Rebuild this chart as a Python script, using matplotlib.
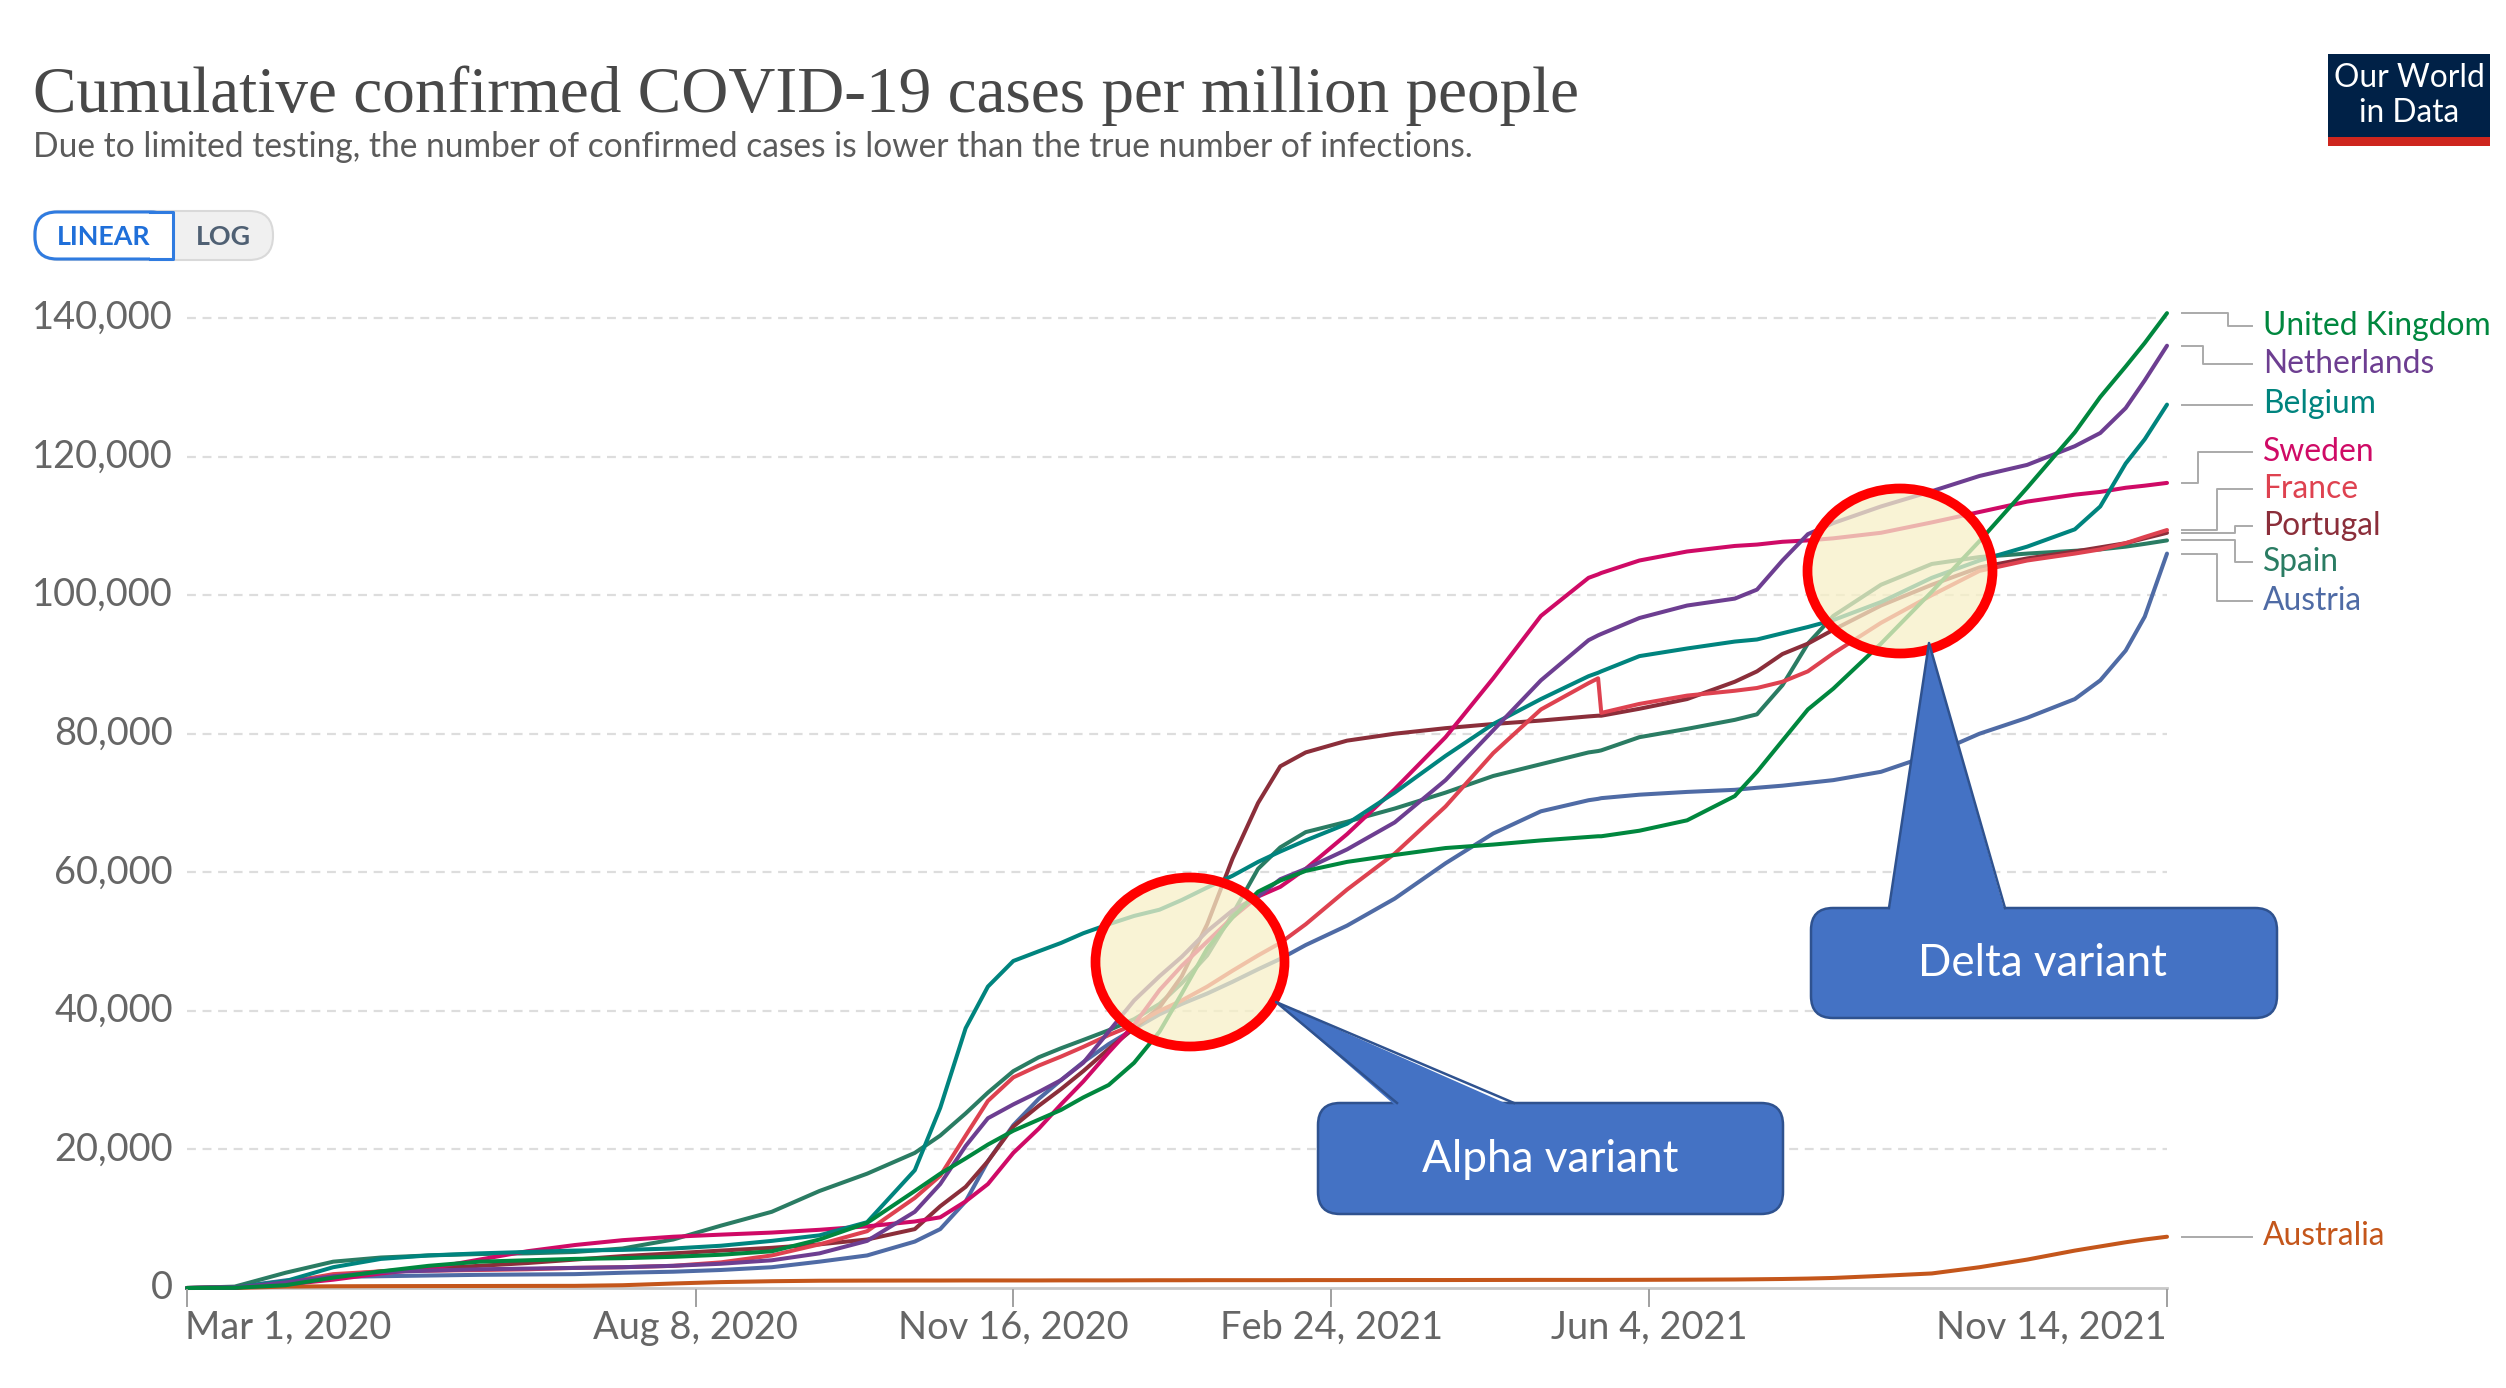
import numpy as np
import matplotlib
matplotlib.use("Agg")
import matplotlib.pyplot as plt
import matplotlib.dates as mdates
import matplotlib.transforms as mtransforms
from matplotlib.patches import Ellipse, FancyBboxPatch, Polygon, Rectangle
from matplotlib.lines import Line2D
import datetime as dt

# ---------------- data (cases per million, thousands) ----------------
DATES = ["2020-03-01", "2020-03-16", "2020-04-01", "2020-04-16", "2020-05-01", "2020-05-16",
         "2020-06-01", "2020-06-16", "2020-07-01", "2020-07-16", "2020-08-01", "2020-08-16",
         "2020-09-01", "2020-09-16", "2020-10-01", "2020-10-16",
         "2020-10-24", "2020-11-01", "2020-11-08", "2020-11-16", "2020-11-24", "2020-12-01",
         "2020-12-08", "2020-12-16", "2020-12-24", "2021-01-01", "2021-01-08", "2021-01-16",
         "2021-01-24", "2021-02-01", "2021-02-08", "2021-02-16",
         "2021-03-01", "2021-03-16", "2021-04-01", "2021-04-16", "2021-05-01", "2021-05-16",
         "2021-05-19", "2021-05-20", "2021-06-01", "2021-06-16", "2021-07-01", "2021-07-08",
         "2021-07-16", "2021-07-24", "2021-08-01", "2021-08-16", "2021-09-01", "2021-09-16",
         "2021-10-01", "2021-10-16", "2021-10-24", "2021-11-01", "2021-11-07", "2021-11-14"]

UNITED_KINGDOM = [0.0, 0.03, 0.4, 1.5, 2.4, 3.2, 3.8, 4.0, 4.2, 4.3, 4.5, 4.8, 5.3, 7.0, 9.4, 14.0,
                  16.5, 18.7, 20.7, 22.7, 24.3, 25.7, 27.5, 29.3, 32.5, 37.0, 42.5, 49.0, 53.5, 57.2, 58.8, 60.2,
                  61.5, 62.5, 63.5, 64.0, 64.6, 65.1, 65.2, 65.2, 66.0, 67.5, 71.0, 74.5, 79.0, 83.5,
                  86.5, 93.0, 100.5, 107.8, 115.5, 123.5, 128.6, 133.0, 136.4, 140.7]
NETHERLANDS = [0.0, 0.08, 0.8, 1.7, 2.3, 2.5, 2.7, 2.8, 2.9, 3.0, 3.2, 3.5, 4.0, 5.0, 6.8, 11.0,
               15.0, 20.5, 24.5, 26.5, 28.3, 30.0, 32.5, 37.0, 41.5, 45.0, 47.8, 51.5, 54.5, 56.5, 59.0, 60.5,
               63.3, 67.2, 73.3, 80.5, 87.7, 93.5, 94.2, 94.4, 96.7, 98.5, 99.5, 100.8, 105.0, 108.8,
               110.4, 112.8, 115.0, 117.2, 118.8, 121.5, 123.4, 127.0, 131.0, 136.0]
BELGIUM = [0.0, 0.1, 1.0, 3.0, 4.2, 4.7, 5.0, 5.2, 5.4, 5.5, 5.7, 6.1, 6.8, 7.6, 9.5, 17.0,
           26.0, 37.5, 43.5, 47.2, 48.6, 49.8, 51.2, 52.5, 53.7, 54.6, 56.0, 57.8, 59.5, 61.5, 63.0, 64.6,
           67.0, 71.5, 76.8, 81.4, 85.0, 88.3, 88.8, 89.0, 91.2, 92.3, 93.3, 93.6, 94.5, 95.4,
           96.4, 99.0, 102.5, 105.0, 107.0, 109.5, 112.8, 119.0, 122.5, 127.5]
SWEDEN = [0.0, 0.1, 0.5, 1.2, 2.1, 2.8, 4.1, 5.3, 6.2, 6.9, 7.4, 7.7, 8.0, 8.4, 8.9, 9.6,
          10.2, 12.5, 15.0, 19.5, 23.0, 26.5, 29.8, 34.0, 38.0, 43.0, 46.5, 50.0, 53.5, 56.5, 57.9, 60.5,
          65.5, 72.0, 79.5, 88.0, 97.0, 102.5, 103.0, 103.2, 105.0, 106.3, 107.1, 107.3, 107.7, 107.9,
          108.2, 109.0, 110.5, 112.0, 113.5, 114.5, 114.9, 115.5, 115.8, 116.2]
FRANCE = [0.0, 0.1, 0.8, 2.0, 2.4, 2.5, 2.6, 2.7, 2.9, 3.0, 3.2, 3.7, 4.7, 6.3, 8.2, 13.0,
          16.2, 22.0, 27.0, 30.4, 32.1, 33.4, 34.8, 36.5, 38.0, 40.0, 41.5, 43.5, 45.8, 48.0, 49.8, 52.5,
          57.5, 62.7, 69.5, 77.2, 83.5, 87.3, 88.0, 83.0, 84.3, 85.5, 86.2, 86.6, 87.5, 89.0,
          91.6, 96.0, 100.0, 103.5, 105.0, 106.0, 106.6, 107.5, 108.4, 109.4]
PORTUGAL = [0.0, 0.01, 0.8, 1.8, 2.4, 2.8, 3.2, 3.6, 4.1, 4.6, 5.0, 5.4, 5.8, 6.3, 7.0, 8.5,
            11.8, 14.6, 18.3, 23.3, 26.3, 28.7, 31.3, 34.5, 37.5, 40.5, 45.0, 52.5, 62.0, 70.0, 75.3, 77.3,
            79.0, 80.0, 80.8, 81.4, 81.9, 82.5, 82.6, 82.6, 83.6, 85.0, 87.5, 89.0, 91.5, 93.0,
            95.0, 98.5, 101.5, 104.0, 105.3, 106.3, 106.9, 107.5, 108.2, 109.0]
SPAIN = [0.0, 0.2, 2.2, 3.8, 4.4, 4.7, 4.9, 5.0, 5.2, 5.7, 7.0, 9.0, 11.0, 14.0, 16.5, 19.5,
         22.0, 25.2, 28.2, 31.3, 33.3, 34.6, 35.8, 37.2, 38.8, 41.0, 44.0, 48.0, 54.0, 60.5, 63.6, 65.8,
         67.3, 69.2, 71.5, 73.9, 75.6, 77.3, 77.5, 77.6, 79.5, 80.7, 82.0, 82.8, 87.0, 93.0,
         97.0, 101.5, 104.5, 105.5, 106.0, 106.4, 106.6, 107.0, 107.4, 107.9]
AUSTRIA = [0.0, 0.1, 1.1, 1.6, 1.7, 1.8, 1.9, 1.95, 2.0, 2.2, 2.35, 2.6, 3.0, 3.8, 4.7, 6.7,
           8.5, 12.5, 18.3, 23.5, 27.3, 30.0, 32.6, 35.2, 37.4, 39.5, 41.0, 42.5, 44.2, 46.0, 47.5, 49.5,
           52.3, 56.2, 61.3, 65.6, 68.8, 70.4, 70.6, 70.7, 71.2, 71.6, 71.9, 72.2, 72.5, 72.9,
           73.3, 74.5, 77.0, 80.0, 82.3, 85.0, 87.7, 92.0, 96.9, 106.0]
AUSTRALIA = [0.0, 0.01, 0.2, 0.25, 0.27, 0.28, 0.29, 0.3, 0.31, 0.4, 0.65, 0.85, 0.98, 1.05, 1.07, 1.08,
             1.08, 1.09, 1.09, 1.09, 1.09, 1.1, 1.1, 1.1, 1.11, 1.12, 1.12, 1.13, 1.13, 1.13, 1.13, 1.14,
             1.14, 1.15, 1.15, 1.16, 1.17, 1.17, 1.17, 1.17, 1.18, 1.2, 1.23, 1.26, 1.3, 1.36,
             1.45, 1.75, 2.1, 3.0, 4.1, 5.4, 6.0, 6.6, 7.0, 7.4]

COUNTRIES = ["Australia", "Austria", "Spain", "Portugal", "France", "Sweden",
             "Belgium", "Netherlands", "United Kingdom"]
SERIES = {"United Kingdom": UNITED_KINGDOM, "Netherlands": NETHERLANDS, "Belgium": BELGIUM,
          "Sweden": SWEDEN, "France": FRANCE, "Portugal": PORTUGAL, "Spain": SPAIN,
          "Austria": AUSTRIA, "Australia": AUSTRALIA}
COLORS = {"United Kingdom": "#00873E", "Netherlands": "#6D3E91", "Belgium": "#00847E",
          "Sweden": "#CF0A66", "France": "#DE4250", "Portugal": "#8B2E3A", "Spain": "#2A7C63",
          "Austria": "#4F6BA5", "Australia": "#C4561B"}

Y_TICKS = [0, 20000, 40000, 60000, 80000, 100000, 120000, 140000]
X_TICKS = ["2020-03-01", "2020-08-08", "2020-11-16", "2021-02-24", "2021-06-04", "2021-11-14"]
X_TICK_LABELS = ["Mar 1, 2020", "Aug 8, 2020", "Nov 16, 2020", "Feb 24, 2021", "Jun 4, 2021", "Nov 14, 2021"]

TITLE = "Cumulative confirmed COVID-19 cases per million people"
SUBTITLE = "Due to limited testing, the number of confirmed cases is lower than the true number of infections."

# ---------------- layout (pixels, top-left origin) ----------------
W, H = 2506, 1388
PLOT_L, PLOT_R, PLOT_B, PLOT_T140 = 187, 2167, 1288, 318
YMAX = 146000

fig = plt.figure(figsize=(W / 100, H / 100), dpi=100)
fig.patch.set_facecolor("white")
PX = mtransforms.Affine2D().scale(1, -1).translate(0, H)  # top-left pixel coords -> display
IDT = mtransforms.IdentityTransform()

plot_h = (PLOT_B - PLOT_T140) * YMAX / 140000
ax = fig.add_axes([PLOT_L / W, (H - PLOT_B) / H, (PLOT_R - PLOT_L) / W, plot_h / H])
ax.set_axis_off()
x = mdates.date2num([dt.date.fromisoformat(d) for d in DATES])
x0 = mdates.date2num(dt.date(2020, 3, 1))
x1 = mdates.date2num(dt.date(2021, 11, 14))
ax.set_xlim(x0, x1)
ax.set_ylim(0, YMAX)

FONT = ["Lato", "DejaVu Sans"]

# gridlines
for yv in Y_TICKS[1:]:
    ax.plot([x0, x1], [yv, yv], color="#DDDDDD", lw=1.6, ls=(0, (4, 3)), zorder=1)
ax.plot([x0, x1], [0, 0], color="#C8C8C8", lw=2.0, zorder=1, clip_on=False)

for c in COUNTRIES:
    ax.plot(x, np.array(SERIES[c]) * 1000, color=COLORS[c], lw=2.9, zorder=3,
            clip_on=False, solid_joinstyle="round", solid_capstyle="round")

fig.canvas.draw()
R = fig.canvas.get_renderer()


def fit(t, target_w):
    w = t.get_window_extent(R).width
    t.set_fontsize(t.get_fontsize() * target_w / w)


def to_px(xd, yd):
    dx, dy = ax.transData.transform((xd, yd))
    return dx, H - dy


# y tick labels
ytexts = []
for yv in Y_TICKS:
    _, yp = to_px(x0, yv)
    t = fig.text(173, yp, f"{yv:,}", transform=PX, ha="right", va="center",
                 family=FONT, fontsize=26, color="#666666")
    ytexts.append(t)
fit(ytexts[-1], 141)
ysize = ytexts[-1].get_fontsize()
for t in ytexts:
    t.set_fontsize(ysize)

# x ticks and labels
for i, (d, lab) in enumerate(zip(X_TICKS, X_TICK_LABELS)):
    xd = mdates.date2num(dt.date.fromisoformat(d))
    xp, _ = to_px(xd, 0)
    fig.add_artist(Line2D([xp, xp], [1290, 1306], transform=PX, color="#A0A0A0", lw=1.4))
    ha = "left" if i == 0 else ("right" if i == len(X_TICKS) - 1 else "center")
    if i == 0:
        xp -= 2
    fig.text(xp, 1328, lab, transform=PX, ha=ha, va="center", family=FONT,
             fontsize=ysize, color="#666666")

# connectors and labels
LABEL_Y = {"United Kingdom": 326, "Netherlands": 364, "Belgium": 403, "Sweden": 452,
           "France": 489, "Portugal": 526, "Spain": 562, "Austria": 601, "Australia": 1237}
ELBOW_X = {"United Kingdom": 2228, "Netherlands": 2203, "Belgium": None, "Sweden": 2198,
           "France": 2217, "Portugal": 2235, "Spain": 2235, "Austria": 2217, "Australia": None}
lab_size = None
for c in ["United Kingdom", "Netherlands", "Belgium", "Sweden", "France", "Portugal",
          "Spain", "Austria", "Australia"]:
    _, ys = to_px(x1, SERIES[c][-1] * 1000)
    yl = LABEL_Y[c]
    ex = ELBOW_X[c]
    if ex is None:
        xs_, ys_ = [2182, 2252], [ys, ys]
        yl = ys - 1
    else:
        xs_, ys_ = [2182, ex, ex, 2252], [ys, ys, yl, yl]
    fig.add_artist(Line2D(xs_, ys_, transform=PX, color="#AAAAAA", lw=1.4))
    t = fig.text(2263, yl, c, transform=PX, ha="left", va="center", family=FONT,
                 fontsize=22, color=COLORS[c])
    if c == "United Kingdom":
        fit(t, 227)
        lab_size = t.get_fontsize()
    else:
        t.set_fontsize(lab_size)

# title & subtitle
tt = fig.text(33, 112, TITLE, transform=PX, ha="left", va="baseline",
              family=["Liberation Serif", "DejaVu Serif"], fontsize=46, color="#484848")
fit(tt, 1547)
st = fig.text(33, 157, SUBTITLE, transform=PX, ha="left", va="baseline",
              family=FONT, fontsize=22, color="#5B5B5B")
fit(st, 1434)

# LINEAR / LOG toggle
fig.add_artist(FancyBboxPatch((34, H - 260), 239, 49, boxstyle="round,pad=0,rounding_size=24",
                              transform=IDT, fc="#F0F0F0", ec="#D9D9D9", lw=1.5))
fig.add_artist(FancyBboxPatch((35, H - 259), 138, 47, boxstyle="round,pad=0,rounding_size=22",
                              transform=IDT, fc="white", ec="#2F7BE0", lw=2.2))
fig.add_artist(Rectangle((150, H - 259), 23, 47, transform=IDT, fc="white", ec="none"))
fig.add_artist(Line2D([150, 173, 173, 150], [H - 259, H - 259, H - 212, H - 212],
                      transform=IDT, color="#2F7BE0", lw=2.2))
t1 = fig.text(104, 237, "LINEAR", transform=PX, ha="center", va="center", family=FONT,
              fontweight="bold", fontsize=18, color="#1F6FD9")
fit(t1, 94)
fig.text(223, 237, "LOG", transform=PX, ha="center", va="center", family=FONT,
         fontweight="bold", fontsize=t1.get_fontsize(), color="#4F6073")

# OWID logo
fig.add_artist(Rectangle((2328, H - 137), 162, 83, transform=IDT, fc="#002147", ec="none"))
fig.add_artist(Rectangle((2328, H - 146), 162, 9, transform=IDT, fc="#CE261E", ec="none"))
l1 = fig.text(2409, 78, "Our World", transform=PX, ha="center", va="center", family=FONT,
              fontsize=22, color="white")
fit(l1, 150)
fig.text(2409, 113, "in Data", transform=PX, ha="center", va="center", family=FONT,
         fontsize=l1.get_fontsize(), color="white")

# highlight ellipses
for (cx, cy, ew, eh) in [(1190, 962, 189, 169), (1900, 571, 185, 165)]:
    fig.add_artist(Ellipse((cx, H - cy), ew, eh, transform=IDT,
                           fc=(0.97, 0.94, 0.78, 0.74), ec="#FF0000", lw=7, zorder=5))


# callouts
def callout(box, tip, base, text, tcenter, tw):
    bx0, by0, bx1, by1 = box
    fig.add_artist(FancyBboxPatch((bx0, H - by1), bx1 - bx0, by1 - by0,
                                  boxstyle="round,pad=0,rounding_size=22", transform=IDT,
                                  fc="#4472C4", ec="#2F528F", lw=1.8, zorder=6))
    (ax0, ay), (ax1_, _) = base
    poly = [(ax0, H - ay - 4), (tip[0], H - tip[1]), (ax1_, H - ay - 4)]
    fig.add_artist(Polygon(poly, closed=True, transform=IDT, fc="#4472C4", ec="none", zorder=7))
    fig.add_artist(Line2D([ax0, tip[0], ax1_], [H - ay, H - tip[1], H - ay],
                          transform=IDT, color="#2F528F", lw=1.8, zorder=8))
    t = fig.text(tcenter[0], tcenter[1], text, transform=PX, ha="center", va="center",
                 family=FONT, fontsize=28, color="white", zorder=9)
    fit(t, tw)


callout((1318, 1103, 1783, 1214), (1276, 1002), [(1397, 1103), (1514, 1103)],
        "Alpha variant", (1550, 1160), 257)
callout((1811, 908, 2277, 1018), (1929, 643), [(1889, 908), (2005, 908)],
        "Delta variant", (2042, 963), 249)

fig.savefig("out.png", dpi=100)
